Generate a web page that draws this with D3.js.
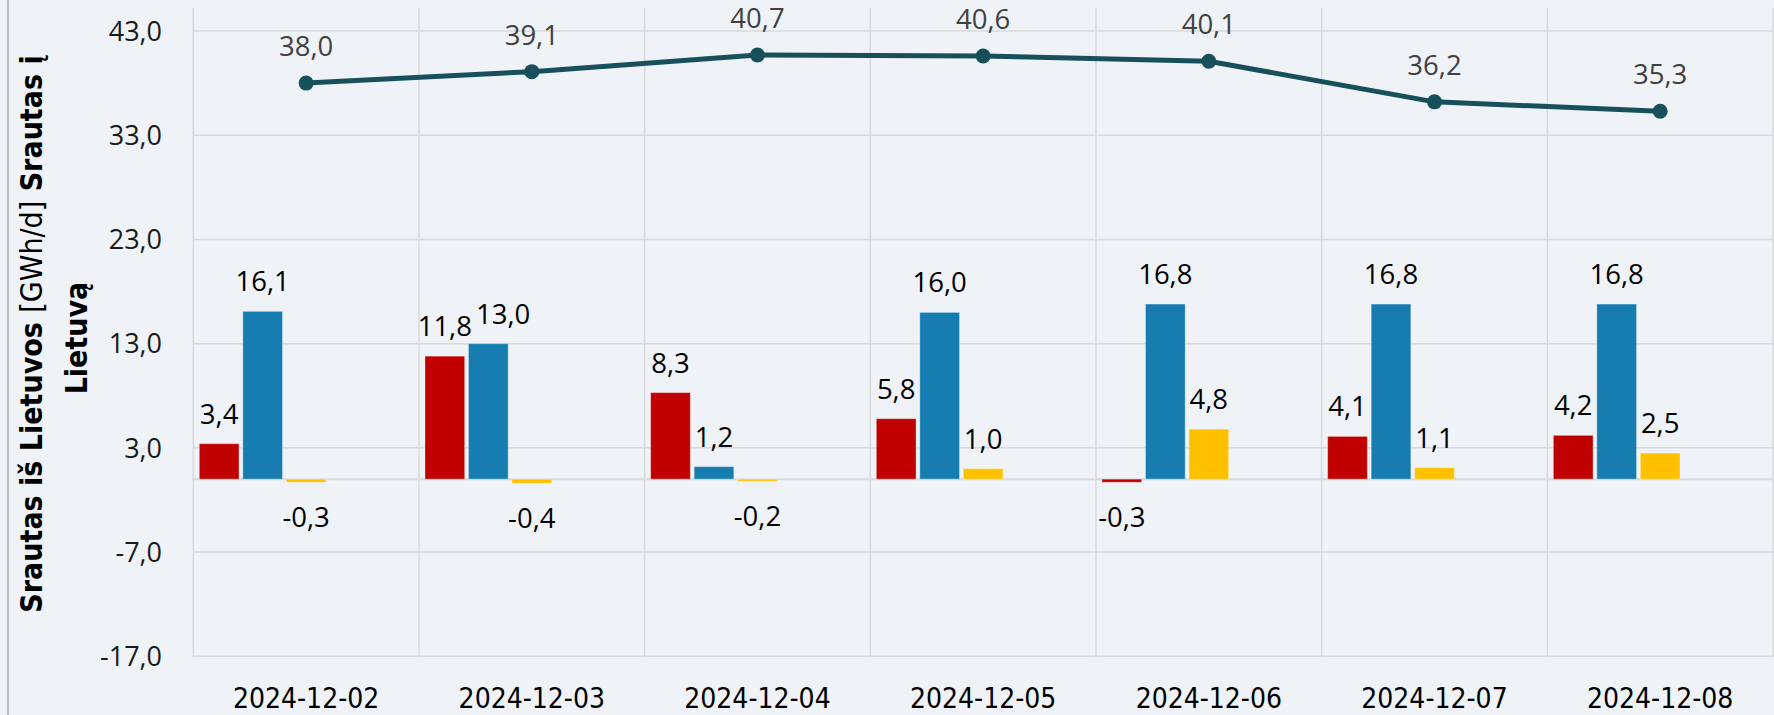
<!DOCTYPE html>
<html>
<head>
<meta charset="utf-8">
<script src="https://cdn.jsdelivr.net/npm/d3@7"></script>
<style>
  html, body { margin: 0; padding: 0; background: #eff3f7; }
  svg { display: block; }
</style>
</head>
<body>
<svg id="chart" width="1774" height="715"></svg>
<script>
// ---- data ----
const categories = ["2024-12-02", "2024-12-03", "2024-12-04", "2024-12-05", "2024-12-06", "2024-12-07", "2024-12-08"];
const seriesRed    = [3.4, 11.8, 8.3, 5.8, -0.3, 4.1, 4.2];
const seriesBlue   = [16.1, 13.0, 1.2, 16.0, 16.8, 16.8, 16.8];
const seriesYellow = [-0.3, -0.4, -0.2, 1.0, 4.8, 1.1, 2.5];
const lineValues   = [38.0, 39.1, 40.7, 40.6, 40.1, 36.2, 35.3];
const yTicks = [-17, -7, 3, 13, 23, 33, 43];
const axisTitleLine1 = ["Srautas iš Lietuvos ", "[GWh/d]", " Srautas į"];
const axisTitleLine2 = "Lietuvą";

const barSeries = [
  { key: "red", values: seriesRed, color: "#c00000" },
  { key: "blue", values: seriesBlue, color: "#177cb0" },
  { key: "yellow", values: seriesYellow, color: "#ffc000" }
];
const clusterSlots = [0, 1, 2, 3, 4]; // Excel cluster has 5 slots, only first 3 are drawn

const svg = d3.select("#chart");
const W = 1774, H = 715;
const left = 193.3, right = 1773, plotTop = 8;
const fmt = v => d3.format(".1f")(v).replace(".", ",").replace("−", "-");
const condensed = "'Liberation Sans Narrow', 'DejaVu Sans Condensed', sans-serif";

const x = d3.scaleBand().domain(categories).range([left, right]).paddingInner(0).paddingOuter(0);
const xSub = d3.scaleBand().domain(clusterSlots).range([0, x.bandwidth()]).paddingInner(0.087).paddingOuter(0.138);
const y = d3.scaleLinear().domain([-17, 43]).range([656.3, 31]);

// background
svg.append("rect").attr("width", W).attr("height", H).attr("fill", "#eff3f7");
// left chart border
svg.append("line").attr("x1", 8).attr("x2", 8).attr("y1", 0).attr("y2", H)
  .attr("stroke", "#a6a6a6").attr("stroke-width", 1.5);

// horizontal gridlines
svg.append("g").selectAll("line").data(yTicks).join("line")
  .attr("x1", left).attr("x2", right)
  .attr("y1", d => y(d)).attr("y2", d => y(d))
  .attr("stroke", "#d9d9d9").attr("stroke-width", 1.5);

// vertical gridlines (category boundaries)
const bounds = categories.map(c => x(c)).concat([right]);
svg.append("g").selectAll("line").data(bounds).join("line")
  .attr("x1", d => d).attr("x2", d => d)
  .attr("y1", plotTop).attr("y2", y(-17) + 1)
  .attr("stroke", "#d9d9d9").attr("stroke-width", 1.5);

// zero (category) axis line
svg.append("line").attr("x1", left).attr("x2", right)
  .attr("y1", y(0)).attr("y2", y(0))
  .attr("stroke", "#d9d9d9").attr("stroke-width", 2);

// y tick labels
svg.append("g").selectAll("text").data(yTicks).join("text")
  .attr("x", 162).attr("y", d => y(d)).attr("dy", "0.36em")
  .attr("text-anchor", "end")
  .attr("font-family", "'Open Sans', sans-serif").attr("font-size", 27)
  .attr("fill", "#1a1a1a")
  .text(d => fmt(d));

// x labels
svg.append("g").selectAll("text").data(categories).join("text")
  .attr("x", d => x(d) + x.bandwidth() / 2).attr("y", 708)
  .attr("text-anchor", "middle")
  .attr("font-family", condensed)
  .attr("font-size", 28)
  .attr("fill", "#000")
  .text(d => d);

// bars
const labelNodes = categories.map(() => []);
barSeries.forEach((s, si) => {
  const g = svg.append("g");
  const data = categories.map((c, i) => ({ c, i, v: s.values[i] }));
  g.selectAll("rect").data(data).join("rect")
    .attr("x", d => x(d.c) + xSub(si))
    .attr("width", xSub.bandwidth())
    .attr("y", d => y(Math.max(0, d.v)))
    .attr("height", d => Math.abs(y(d.v) - y(0)))
    .attr("fill", s.color)
    .attr("stroke", "#ffffff").attr("stroke-opacity", 0.35).attr("stroke-width", 1);
  g.selectAll("text").data(data).join("text")
    .attr("x", d => x(d.c) + xSub(si) + xSub.bandwidth() / 2)
    .attr("y", d => d.v >= 0 ? y(d.v) - 20 : y(d.v) + 45)
    .attr("text-anchor", "middle")
    .attr("font-family", "'Open Sans', sans-serif").attr("font-size", 27.5)
    .attr("fill", "#000")
    .text(d => fmt(d.v))
    .each(function(d) { labelNodes[d.i].push(this); });
});

// nudge overlapping labels within a cluster to the right (as in the original)
labelNodes.forEach(nodes => {
  for (let k = 1; k < nodes.length; k++) {
    const prev = nodes[k - 1].getBBox();
    const cur = nodes[k].getBBox();
    const vOverlap = cur.y < prev.y + prev.height && prev.y < cur.y + cur.height;
    const hOverlap = prev.x + prev.width + 4 - cur.x;
    if (vOverlap && hOverlap > 0) {
      const x0 = +nodes[k].getAttribute("x");
      nodes[k].setAttribute("x", x0 + hOverlap);
    }
  }
});

// line series
const lineData = categories.map((c, i) => ({ c, v: lineValues[i] }));
const cx = d => x(d.c) + x.bandwidth() / 2;
svg.append("path").datum(lineData)
  .attr("d", d3.line().x(cx).y(d => y(d.v)))
  .attr("fill", "none").attr("stroke", "#17505b").attr("stroke-width", 5)
  .attr("stroke-linejoin", "round");
svg.append("g").selectAll("circle").data(lineData).join("circle")
  .attr("cx", cx).attr("cy", d => y(d.v)).attr("r", 7.5)
  .attr("fill", "#17505b");
svg.append("g").selectAll("text").data(lineData).join("text")
  .attr("x", cx).attr("y", d => y(d.v) - 27)
  .attr("text-anchor", "middle")
  .attr("font-family", "'Open Sans', sans-serif").attr("font-size", 27.5)
  .attr("fill", "#404040")
  .text(d => fmt(d.v));

// y axis title (two lines, rotated)
const titleCenterY = 334;
const t1 = svg.append("text")
  .attr("transform", `translate(41.7, ${titleCenterY}) rotate(-90)`)
  .attr("text-anchor", "middle")
  .attr("font-family", condensed)
  .attr("font-size", 30)
  .attr("fill", "#000");
axisTitleLine1.forEach((part, i) => {
  t1.append("tspan").attr("font-weight", i === 1 ? "normal" : "bold").text(part);
});
svg.append("text")
  .attr("transform", `translate(86.7, ${titleCenterY + 4}) rotate(-90)`)
  .attr("text-anchor", "middle")
  .attr("font-family", condensed)
  .attr("font-size", 30).attr("font-weight", "bold")
  .attr("fill", "#000")
  .text(axisTitleLine2);
</script>
</body>
</html>
